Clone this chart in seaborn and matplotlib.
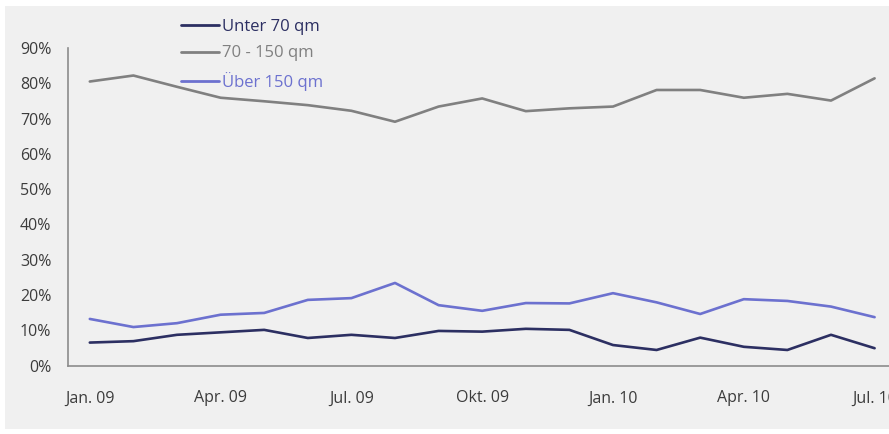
import matplotlib
matplotlib.use("Agg")
import matplotlib.pyplot as plt
import seaborn as sns
import pandas as pd
from matplotlib.patches import Rectangle

months = ["Jan. 09", "Feb. 09", "Mär. 09", "Apr. 09", "Mai. 09", "Jun. 09", "Jul. 09",
          "Aug. 09", "Sep. 09", "Okt. 09", "Nov. 09", "Dez. 09", "Jan. 10", "Feb. 10",
          "Mär. 10", "Apr. 10", "Mai. 10", "Jun. 10", "Jul. 10"]
unter70 = [6.5, 6.9, 8.7, 9.4, 10.1, 7.8, 8.7, 7.8, 9.8, 9.6, 10.4, 10.1, 5.8, 4.4,
           7.9, 5.3, 4.4, 8.7, 4.9]
mitte = [80.5, 82.2, 79.0, 75.9, 74.9, 73.8, 72.2, 69.1, 73.4, 75.7, 72.1, 72.9, 73.4,
         78.1, 78.1, 75.9, 77.0, 75.1, 81.4]
ueber150 = [13.2, 10.9, 12.0, 14.4, 14.9, 18.6, 19.1, 23.4, 17.1, 15.5, 17.7, 17.6,
            20.5, 17.9, 14.6, 18.8, 18.3, 16.7, 13.7]
series_names = ["Unter 70 qm", "70 - 150 qm", "Über 150 qm"]
colors = ["#2c2f62", "#808080", "#6c71cf"]
yticks = [0, 10, 20, 30, 40, 50, 60, 70, 80, 90]

rows = []
for name, vals in zip(series_names, [unter70, mitte, ueber150]):
    for i, v in enumerate(vals):
        rows.append({"idx": i, "month": months[i], "value": v / 100.0, "series": name})
df = pd.DataFrame(rows)

sns.set_theme(style="white")
plt.rcParams["font.family"] = ["Open Sans", "DejaVu Sans"]

fig = plt.figure(figsize=(8.89, 4.34), dpi=100, facecolor="white")
fig.patches.append(Rectangle((0.006, 0.012), 0.994, 0.974, transform=fig.transFigure,
                             facecolor="#f0f0f0", edgecolor="none", zorder=-10))
ax = fig.add_axes([68 / 889, (434 - 365.5) / 434, 828.4 / 889, (365.5 - 48) / 434])
ax.set_facecolor("none")

sns.lineplot(data=df, x="idx", y="value", hue="series", palette=colors,
             hue_order=series_names, linewidth=1.9, ax=ax)

ax.set_xlim(-0.5, len(months) - 0.5)
ax.set_ylim(0, 0.9)
ax.set_yticks([t / 100 for t in yticks])
ax.set_yticklabels([f"{t}%" for t in yticks])

# major ticks at category boundaries (no labels), minor ticks for labels
ax.set_xticks([i - 0.5 for i in range(0, len(months), 3)])
ax.set_xticklabels([])
ax.set_xticks(list(range(0, len(months), 3)), minor=True)
ax.set_xticklabels([months[i] for i in range(0, len(months), 3)], minor=True)
ax.tick_params(axis="x", which="major", direction="out", length=4, width=1, color="#8c8c8c")
ax.tick_params(axis="x", which="minor", length=0, pad=18, labelsize=11.5, labelcolor="#3c3c3c")
ax.tick_params(axis="y", direction="out", length=4, width=1, color="#8c8c8c",
               labelsize=11.5, labelcolor="#3c3c3c", pad=8)

for s in ["top", "right"]:
    ax.spines[s].set_visible(False)
for s in ["left", "bottom"]:
    ax.spines[s].set_color("#8c8c8c")
    ax.spines[s].set_linewidth(1.2)

ax.set_xlabel("")
ax.set_ylabel("")

leg = ax.legend(loc="upper left", bbox_to_anchor=((174 - 68) / 828.4, 1.112), frameon=False,
                fontsize=12, handlelength=2.3, handletextpad=0.2, labelspacing=0.62,
                borderaxespad=0)
for txt, c in zip(leg.get_texts(), colors):
    txt.set_color(c)
for line in leg.get_lines():
    line.set_linewidth(2.0)

fig.savefig("out.png", dpi=100, facecolor=fig.get_facecolor())
